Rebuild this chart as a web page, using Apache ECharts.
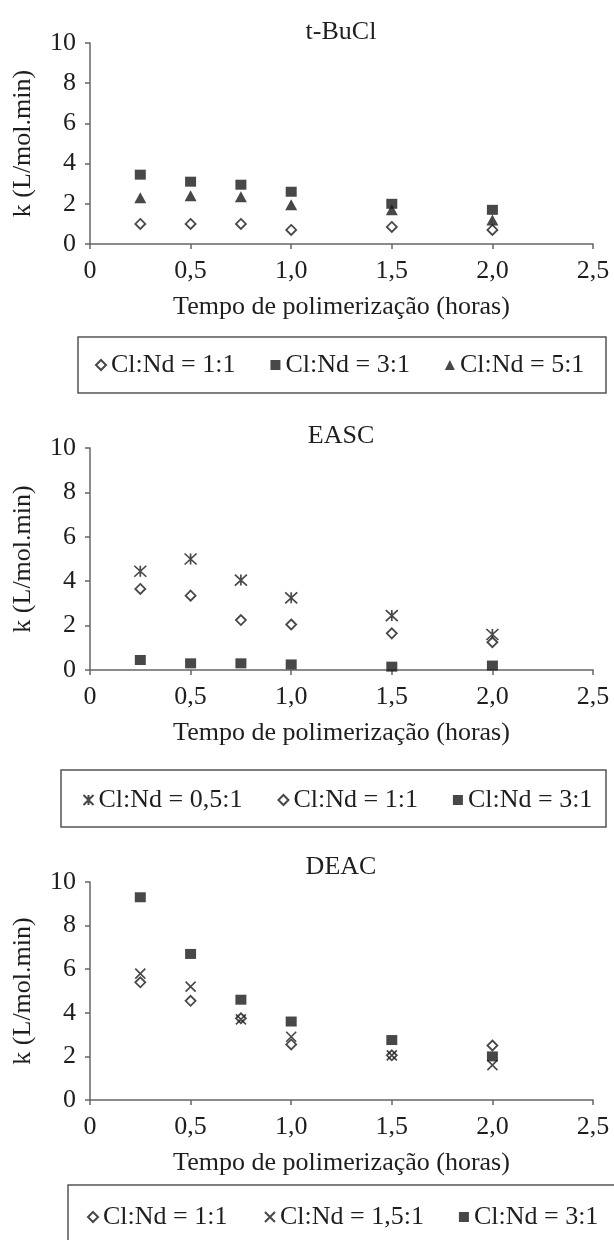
<!DOCTYPE html>
<html>
<head>
<meta charset="utf-8">
<script src="https://cdn.jsdelivr.net/npm/echarts@6/dist/echarts.min.js"></script>
<style>
  html, body { margin: 0; padding: 0; background: #fff; }
  #chart { width: 614px; height: 1240px; }
</style>
</head>
<body>
<div id="chart"></div>
<script>
// Polymerization time (h) at which each rate constant was measured
const times = [0.25, 0.5, 0.75, 1.0, 1.5, 2.0];

// Axis tick labels (decimal comma)
const xTickLabels = ['0', '0,5', '1,0', '1,5', '2,0', '2,5'];
const yTickLabels = ['0', '2', '4', '6', '8', '10'];

const panelTitles = ['t-BuCl', 'EASC', 'DEAC'];
const xAxisTitle = 'Tempo de polimerização (horas)';
const yAxisTitle = 'k (L/mol.min)';

// t-BuCl
const tbuRatio1 = [1.0, 1.0, 1.0, 0.7, 0.85, 0.7];
const tbuRatio3 = [3.45, 3.1, 2.95, 2.6, 2.0, 1.7];
const tbuRatio5 = [2.3, 2.4, 2.35, 1.95, 1.7, 1.2];

// EASC
const eascRatio05 = [4.45, 5.0, 4.05, 3.25, 2.45, 1.6];
const eascRatio1 = [3.65, 3.35, 2.25, 2.05, 1.65, 1.25];
const eascRatio3 = [0.45, 0.3, 0.3, 0.25, 0.15, 0.2];

// DEAC
const deacRatio1 = [5.4, 4.55, 3.75, 2.55, 2.05, 2.5];
const deacRatio15 = [5.8, 5.2, 3.7, 2.9, 2.05, 1.6];
const deacRatio3 = [9.3, 6.7, 4.6, 3.6, 2.75, 2.0];

const FONT = 'Liberation Serif';
const INK = '#1a1a1a';
const TEXT = '#1e1e1e';
const AXIS = '#666';

// Marker styles, one per Cl:Nd ratio
const markers = {
  diamond: { symbol: 'path://M5,0L10,5L5,10L0,5Z', symbolSize: 10,
             itemStyle: { color: '#fff', borderColor: INK, borderWidth: 1.8 } },
  square: { symbol: 'rect', symbolSize: [11, 10], itemStyle: { color: INK } },
  triangle: { symbol: 'triangle', symbolSize: [12, 11], itemStyle: { color: INK } },
  cross: { symbol: 'path://M0,0L10,10M10,0L0,10', symbolSize: 10,
           itemStyle: { color: 'none', borderColor: INK, borderWidth: 1.6 } },
  star: { symbol: 'path://M0,0L10,10M10,0L0,10M5,0L5,10', symbolSize: [12, 11],
          itemStyle: { color: 'none', borderColor: INK, borderWidth: 1.6 } }
};

const panels = [
  { title: panelTitles[0], grid: { top: 43, height: 201 }, titleTop: 19,
    series: [
      ['Cl:Nd = 1:1', tbuRatio1, 'diamond'],
      ['Cl:Nd = 3:1', tbuRatio3, 'square'],
      ['Cl:Nd = 5:1', tbuRatio5, 'triangle']
    ],
    legend: { left: 95, top: 352 },
    box: { x: 78, y: 337, width: 528, height: 56 } },
  { title: panelTitles[1], grid: { top: 448, height: 222 }, titleTop: 423,
    series: [
      ['Cl:Nd = 0,5:1', eascRatio05, 'star'],
      ['Cl:Nd = 1:1', eascRatio1, 'diamond'],
      ['Cl:Nd = 3:1', eascRatio3, 'square']
    ],
    legend: { left: 81, top: 787 },
    box: { x: 61, y: 770, width: 545, height: 57 } },
  { title: panelTitles[2], grid: { top: 882, height: 218 }, titleTop: 854,
    series: [
      ['Cl:Nd = 1:1', deacRatio1, 'diamond'],
      ['Cl:Nd = 1,5:1', deacRatio15, 'cross'],
      ['Cl:Nd = 3:1', deacRatio3, 'square']
    ],
    legend: { left: 87, top: 1204 },
    box: { x: 68, y: 1185, width: 570, height: 80 } }
];

const textBase = { fontFamily: FONT, fontSize: 26, color: TEXT, fontWeight: 'normal' };

const option = {
  backgroundColor: '#fff',
  animation: false,
  title: panels.map(p => ({
    text: p.title, left: 341, top: p.titleTop, textAlign: 'center', padding: 0,
    textStyle: textBase
  })),
  grid: panels.map(p => ({
    left: 90, right: 21, top: p.grid.top, height: p.grid.height,
    outerBoundsMode: 'none', containLabel: false
  })),
  xAxis: panels.map((p, i) => ({
    type: 'value', gridIndex: i, min: 0, max: 2.5, interval: 0.5,
    axisLine: { show: true, onZero: false, lineStyle: { color: AXIS, width: 1.5 } },
    axisTick: { show: true, length: 5, lineStyle: { color: AXIS, width: 1.5 } },
    splitLine: { show: false },
    axisLabel: {
      margin: 14, showMinLabel: true, showMaxLabel: true,
      fontFamily: FONT, fontSize: 26, color: TEXT,
      formatter: v => xTickLabels[Math.round(v / 0.5)]
    },
    name: xAxisTitle, nameLocation: 'middle', nameGap: 50,
    nameTextStyle: textBase
  })),
  yAxis: panels.map((p, i) => ({
    type: 'value', gridIndex: i, min: 0, max: 10, interval: 2,
    axisLine: { show: true, onZero: false, lineStyle: { color: AXIS, width: 1.5 } },
    axisTick: { show: true, length: 5, lineStyle: { color: AXIS, width: 1.5 } },
    splitLine: { show: false },
    axisLabel: {
      margin: 14, showMinLabel: true, showMaxLabel: true,
      fontFamily: FONT, fontSize: 26, color: TEXT,
      formatter: v => yTickLabels[Math.round(v / 2)]
    },
    name: yAxisTitle, nameLocation: 'middle', nameGap: 54, nameRotate: 90,
    nameTextStyle: textBase
  })),
  legend: panels.map(p => ({
    data: p.series.map(s => s[0]),
    left: p.legend.left, top: p.legend.top, padding: 0,
    itemWidth: 10, itemHeight: 10, itemGap: 35,
    selectedMode: false,
    textStyle: { fontFamily: FONT, fontSize: 26, color: TEXT }
  })),
  graphic: panels.map(p => ({
    type: 'rect', silent: true,
    shape: p.box,
    style: { fill: 'none', stroke: '#555', lineWidth: 1.5 }
  })),
  series: []
};

panels.forEach((p, i) => {
  p.series.forEach(([name, values, mk]) => {
    const m = markers[mk];
    option.series.push({
      type: 'scatter', name, xAxisIndex: i, yAxisIndex: i,
      symbol: m.symbol, symbolSize: m.symbolSize, itemStyle: m.itemStyle,
      data: times.map((t, j) => [t, values[j]])
    });
  });
});

const chart = echarts.init(document.getElementById('chart'), null, { renderer: 'canvas' });
chart.setOption(option);
</script>
</body>
</html>
